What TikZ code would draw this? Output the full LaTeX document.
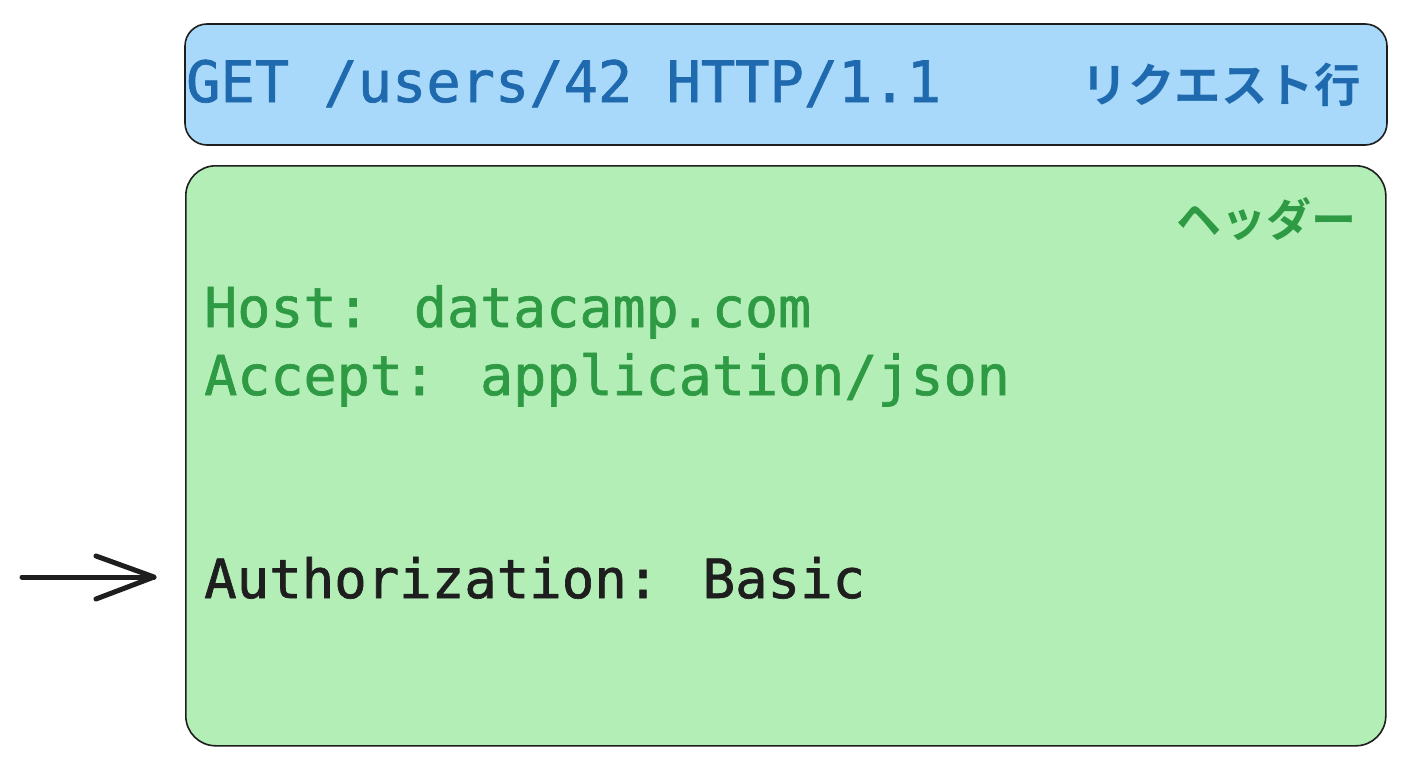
\documentclass[tikz,border=0pt]{standalone}
\usepackage{fontspec}
\newfontfamily\codefont{DejaVu Sans Mono}[FakeBold=1.2]
\newfontfamily\cjk{Noto Sans CJK JP}[BoldFont={* Bold}]
\usetikzlibrary{arrows.meta}
\definecolor{bluefill}{HTML}{A8D8FA}
\definecolor{bluetext}{HTML}{1F6AAE}
\definecolor{greenfill}{HTML}{B2EEB6}
\definecolor{greentext}{HTML}{2E9A44}
\definecolor{inkc}{HTML}{1E1E1E}
\tikzset{
  box/.style={draw=inkc, line width=1.6pt, rounded corners=#1},
  code/.style={anchor=base west, inner sep=0pt, font=\codefont\fontsize{#1}{60}\selectfont},
  code/.default=56,
  jp/.style={anchor=base east, inner sep=0pt, font=\cjk\bfseries\fontsize{#1}{50}\selectfont},
  jp/.default=46,
  pointer/.style={draw=inkc, line width=5pt, line cap=round, line join=round}
}
\begin{document}
\begin{tikzpicture}[x=1pt,y=-1pt]
\useasboundingbox (0,0) rectangle (1408,768);
\fill[white] (0,0) rectangle (1408,768);
% boxes
\draw[box=22pt, fill=bluefill] (185,24) rectangle (1387,145);
\node[box=30pt, fill=greenfill, minimum width=1200pt, minimum height=580pt, anchor=north west, inner sep=0pt] (hdr) at (185,165) {};
% request line
\node[code=57, text=bluetext] (req) at (186,102) {GET /users/42 HTTP/1.1};
\node[jp=46.5, text=bluetext] (reql) at (1361,102) {リクエスト行};
% headers
\node[jp=45, text=greentext] (hl) at (1357,236) {ヘッダー};
\node[code=55, text=greentext] (h1) at (204,327) {Host: datacamp.com};
\node[code=55, text=greentext] (h2) at (204,395) {Accept: application/json};
\node[code=54, text=inkc] (auth) at (204,598) {Authorization: Basic};
% arrow
\coordinate (tail) at (22,577);
\coordinate (tip) at (154,577);
\draw[pointer] (tail) -- (tip);
\draw[pointer] (96,556) -- (tip) -- (96,599);
\end{tikzpicture}
\end{document}
